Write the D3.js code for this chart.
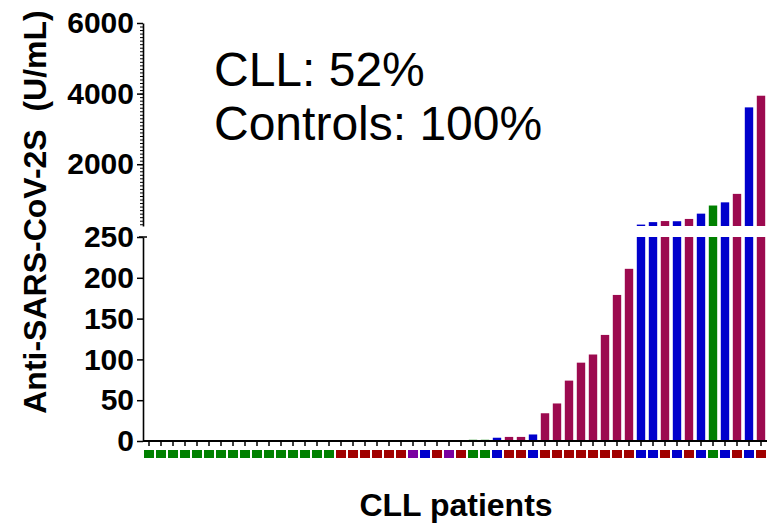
<!DOCTYPE html>
<html>
<head>
<meta charset="utf-8">
<script src="https://cdn.jsdelivr.net/npm/d3@7"></script>
<style>
  html, body { margin: 0; padding: 0; background: #fff; }
  svg { display: block; }
  text { font-family: "Liberation Sans", Arial, sans-serif; }
</style>
</head>
<body>
<svg id="chart" width="769" height="523"></svg>
<script>
// Patient groups, in plotting order (left to right)
const groups = [
  "green","green","green","green","green","green","green","green",
  "green","green","green","green","green","green","green","green",
  "red","red","red","red","red","red",
  "purple","blue","red","purple","red",
  "green","green","blue","red","red","blue",
  "red","red","red","red","red","red","red","red",
  "blue","blue","red","blue","red","blue","green","blue","red","blue","red"
];

// Anti-SARS-CoV-2 S antibody levels (U/mL), one per patient
const antibody = [
  0,0,0,0,0,0,0,0,0,0,0,0,0,0,0,0,
  0,0,0,0,0,0,
  0,0,0,0,0,
  1.5,1.5,4,5,5,8,
  34,46,74,96,106,130,179,211,
  290,360,390,385,450,600,830,920,1160,3610,3940
];

const lowerTicks = [0, 50, 100, 150, 200, 250];
const upperTicks = [2000, 4000, 6000];
const statLines = ["CLL: 52%", "Controls: 100%"];

const barColor = { green: "#008000", red: "#9c0a4f", blue: "#0000cc", purple: "#7a00a0" };
const keyColor = { green: "#008000", red: "#a00000", blue: "#0000cc", purple: "#7a00a0" };

const svg = d3.select("#chart");
const patients = d3.range(antibody.length);

const x = d3.scaleBand().domain(patients).range([143, 767]).paddingInner(0.3).paddingOuter(0.15);
const yLow = d3.scaleLinear().domain([0, 250]).range([441, 237]);
const yHigh = d3.scaleLinear().domain([250, 6000]).range([226, 23]);

// Lower segment bars (clipped at 250)
svg.append("g").selectAll("rect").data(patients).join("rect")
  .attr("x", i => x(i))
  .attr("width", x.bandwidth())
  .attr("y", i => yLow(Math.min(antibody[i], 250)))
  .attr("height", i => yLow(0) - yLow(Math.min(antibody[i], 250)))
  .attr("fill", i => barColor[groups[i]]);

// Upper segment bars (values above 250)
svg.append("g").selectAll("rect").data(patients.filter(i => antibody[i] > 250)).join("rect")
  .attr("x", i => x(i))
  .attr("width", x.bandwidth())
  .attr("y", i => yHigh(antibody[i]))
  .attr("height", i => yHigh(250) - yHigh(antibody[i]))
  .attr("fill", i => barColor[groups[i]]);

// Group key squares under each bar
svg.append("g").selectAll("rect").data(patients).join("rect")
  .attr("x", i => x(i) + x.bandwidth() / 2 - 5)
  .attr("y", 450)
  .attr("width", 10)
  .attr("height", 8)
  .attr("fill", i => keyColor[groups[i]]);

// X axis
const xAxis = svg.append("g").attr("transform", "translate(0,441)")
  .call(d3.axisBottom(x).tickSize(5).tickFormat(""));
xAxis.select(".domain").attr("stroke-width", 2).attr("d", "M143,0H767");
xAxis.selectAll(".tick line").attr("stroke-width", 1.5);

// Lower y axis
const lowAxis = svg.append("g").attr("transform", "translate(143,0)")
  .call(d3.axisLeft(yLow).tickValues(lowerTicks).tickSize(6).tickPadding(3).tickSizeOuter(0));
lowAxis.select(".domain").attr("stroke-width", 1.6);
lowAxis.selectAll(".tick line").attr("stroke-width", 1.5);
lowAxis.append("line").attr("x1", -4).attr("x2", 4).attr("y1", yLow(250)).attr("y2", yLow(250))
  .attr("stroke", "#000").attr("stroke-width", 1.5);

// Upper y axis with minor ticks
const highMinor = svg.append("g").attr("transform", "translate(143,0)")
  .call(d3.axisLeft(yHigh).tickValues(d3.range(300, 6000, 100)).tickSize(3).tickFormat("").tickSizeOuter(0));
highMinor.select(".domain").remove();
highMinor.selectAll(".tick line").attr("stroke-width", 1);
const highAxis = svg.append("g").attr("transform", "translate(143,0)")
  .call(d3.axisLeft(yHigh).tickValues(upperTicks).tickFormat(d3.format("d"))
    .tickSize(6).tickPadding(3).tickSizeOuter(0));
highAxis.select(".domain").attr("stroke-width", 1.6);
highAxis.selectAll(".tick line").attr("stroke-width", 1.5);

svg.selectAll(".tick text")
  .attr("font-size", 30).attr("font-weight", "bold").attr("fill", "#000")
  .attr("font-family", "'Liberation Sans', Arial, sans-serif");

// Axis titles
svg.append("text")
  .attr("transform", "translate(46,212) rotate(-90)")
  .attr("text-anchor", "middle")
  .attr("font-size", 32).attr("font-weight", "bold")
  .attr("xml:space", "preserve")
  .text("Anti-SARS-CoV-2S  (U/mL)");

svg.append("text")
  .attr("x", 456).attr("y", 516)
  .attr("text-anchor", "middle")
  .attr("font-size", 32).attr("font-weight", "bold")
  .text("CLL patients");

// Seroconversion rates
svg.append("g").selectAll("text").data(statLines).join("text")
  .attr("x", 214).attr("y", (d, i) => 86 + i * 54)
  .attr("font-size", 48)
  .text(d => d);
</script>
</body>
</html>
